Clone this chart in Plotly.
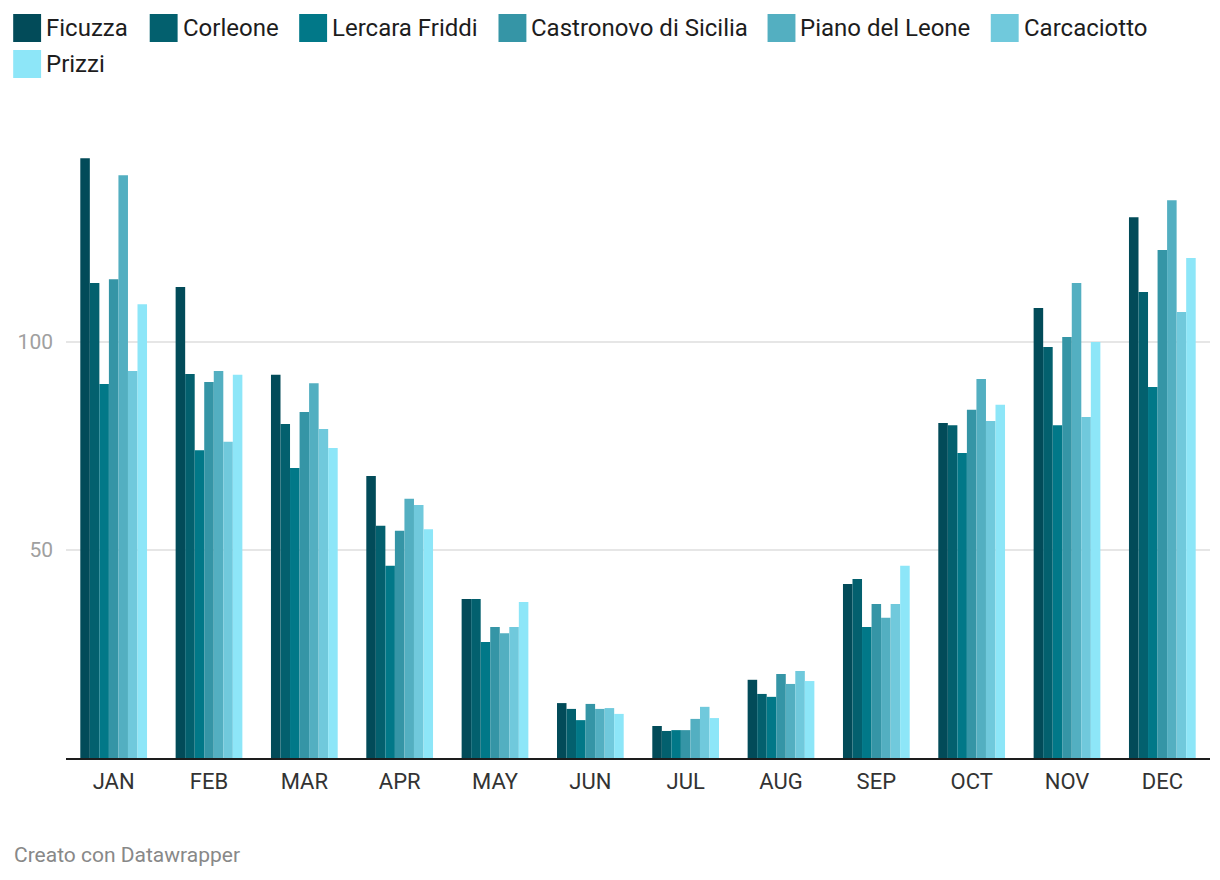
import plotly.graph_objects as go

months = ["JAN", "FEB", "MAR", "APR", "MAY", "JUN", "JUL", "AUG", "SEP", "OCT", "NOV", "DEC"]
stations = ["Ficuzza", "Corleone", "Lercara Friddi", "Castronovo di Sicilia",
            "Piano del Leone", "Carcaciotto", "Prizzi"]

ficuzza = [144.2, 113.2, 92.1, 67.8, 38.2, 13.2, 7.7, 18.8, 41.8, 80.5, 108.2, 130.0]
corleone = [114.2, 92.3, 80.3, 55.8, 38.2, 11.8, 6.5, 15.4, 43.0, 80.0, 98.8, 112.0]
lercara = [89.9, 74.0, 69.7, 46.2, 27.9, 9.1, 6.7, 14.7, 31.5, 73.3, 80.0, 89.2]
castronovo = [115.1, 90.4, 83.2, 54.6, 31.5, 13.0, 6.7, 20.2, 37.0, 83.7, 101.2, 122.1]
piano = [140.1, 93.0, 90.1, 62.3, 30.0, 11.8, 9.4, 17.8, 33.7, 91.1, 114.2, 134.1]
carcaciotto = [93.0, 76.0, 79.1, 60.8, 31.5, 12.0, 12.3, 20.9, 37.0, 81.0, 82.0, 107.2]
prizzi = [109.1, 92.1, 74.5, 55.0, 37.5, 10.6, 9.6, 18.5, 46.2, 84.9, 100.0, 120.2]

series = [ficuzza, corleone, lercara, castronovo, piano, carcaciotto, prizzi]
colors = ["#024b59", "#03606e", "#017888", "#3595a6", "#53afc1", "#70c9dc", "#8de6f8"]

y_ticks = [50, 100]

OFF = 8  # page body margin
W, H = 1212, 872
ml, mr, mt, mb = 54, 10, 126, 122
pw, ph = W - ml - mr, H - mt - mb

fig = go.Figure()
for name, vals, col in zip(stations, series, colors):
    fig.add_trace(go.Bar(x=months, y=vals, name=name, marker=dict(color=col, line=dict(width=0)),
                         showlegend=False))

def px(x):  # page pixel x -> paper
    return (x - OFF - ml) / pw

def py(y):  # page pixel y -> paper
    return (H - mb - (y - OFF)) / ph

# custom legend (square swatches + text)
legend_pos = [(9, 14), (146, 14), (296, 14), (496, 14), (766, 14), (990, 14), (9, 50)]
shapes = []
annotations = []
for (lx, ly), name, col in zip(legend_pos, stations, colors):
    shapes.append(dict(type="rect", xref="paper", yref="paper",
                       x0=px(lx), x1=px(lx + 28), y0=py(ly + 28), y1=py(ly),
                       fillcolor=col, line=dict(width=0), layer="above"))
    annotations.append(dict(text=name, xref="paper", yref="paper", x=px(lx + 31), y=py(ly + 14),
                            xanchor="left", yanchor="middle", showarrow=False,
                            font=dict(family="Roboto", size=24, color="#1d1d1d")))

annotations.append(dict(text="Creato con Datawrapper", xref="paper", yref="paper",
                        x=px(8), y=py(855), xanchor="left", yanchor="middle", showarrow=False,
                        font=dict(family="Roboto", size=21, color="#888888")))

fig.update_layout(
    width=W, height=H,
    margin=dict(l=ml, r=mr, t=mt, b=mb),
    paper_bgcolor="white", plot_bgcolor="white",
    barmode="group", bargap=0.3, bargroupgap=0,
    font=dict(family="Roboto"),
    shapes=shapes, annotations=annotations,
    xaxis=dict(showgrid=False, showline=True, linecolor="#1d1d1d", linewidth=2,
               tickfont=dict(family="Roboto", size=22, color="#333333"),
               ticks="", ticklabelstandoff=3, fixedrange=True),
    yaxis=dict(range=[0, 150], tickvals=y_ticks, showgrid=True, gridcolor="#e6e6e6", gridwidth=2,
               zeroline=False, showline=False, ticks="",
               tickfont=dict(family="Roboto", size=21, color="#a0a0a0"),
               ticklabelstandoff=12, fixedrange=True),
)

fig.write_html("out.html")
